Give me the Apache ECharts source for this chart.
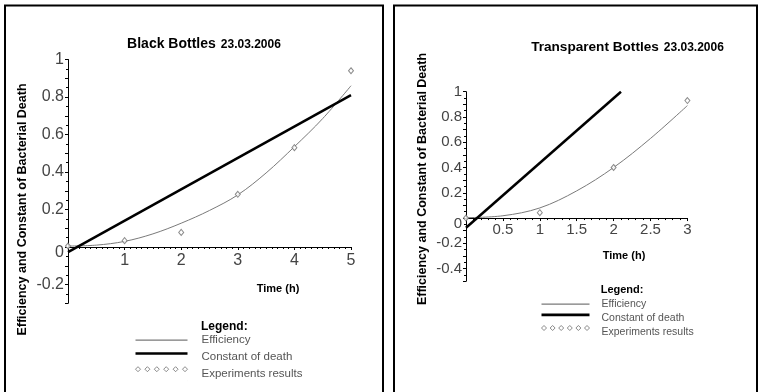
<!DOCTYPE html>
<html>
<head>
<meta charset="utf-8">
<script src="https://cdn.jsdelivr.net/npm/echarts@6/dist/echarts.min.js"></script>
<style>html,body{margin:0;padding:0;background:#fff}#c{width:760px;height:392px}</style>
</head>
<body>
<div id="c"></div>
<script>
// ---- data ----
const leftTime = [0, 0.5, 1, 1.5, 2, 2.5, 3, 3.5, 4, 4.5, 5];
const leftEfficiency = [0.005, 0.01, 0.03, 0.07, 0.127, 0.195, 0.278, 0.395, 0.535, 0.685, 0.86];
const leftDeathTime = [0, 5];
const leftDeath = [-0.027, 0.81];
const leftExpTime = [0, 1, 2, 3, 4, 5];
const leftExp = [0.005, 0.034, 0.078, 0.281, 0.53, 0.94];

const rightTime = [0, 0.5, 1, 1.5, 2, 2.5, 3];
const rightEfficiency = [0.003, 0.018, 0.08, 0.215, 0.40, 0.63, 0.89];
const rightDeathTime = [0, 2.1];
const rightDeath = [-0.077, 1.0];
const rightExpTime = [0, 1, 2, 3];
const rightExp = [0.0, 0.042, 0.40, 0.93];

const leftXTicks = ['1', '2', '3', '4', '5'];
const leftYTicks = ['-0.2', '0', '0.2', '0.4', '0.6', '0.8', '1'];
const rightXTicks = ['0.5', '1', '1.5', '2', '2.5', '3'];
const rightYTicks = ['-0.4', '-0.2', '0', '0.2', '0.4', '0.6', '0.8', '1'];

const seriesNames = ['Efficiency', 'Constant of death', 'Experiments results'];
const titleMain = ['Black Bottles', 'Transparent Bottles'];
const titleDate = '23.03.2006';
const yName = 'Efficiency and Constant of Bacterial Death';
const xName = 'Time (h)';
const legendHead = 'Legend:';

// ---- helpers ----
const zip = (a, b) => a.map((v, i) => [v, b[i]]);
const F = '"Liberation Sans", Arial, sans-serif';
const TF = '"Liberation Sans Narrow", "Liberation Sans", Arial, sans-serif';
function fmt(list) {
  return v => {
    const s = String(+(+v).toFixed(2));
    if (!list.includes(s)) return '';
    return s === '0' ? '{z|0}' : s;
  };
}
// legend icons: drawn inside a W x 14 box (corner anchors keep the box size)
function anchors(w) { return `M0,0L0.02,0M${w},14L${w - 0.02},14`; }
function barIcon(w, y0, y1) {
  return 'path://' + anchors(w) + `M0,${y0}L${w},${y0}L${w},${y1}L0,${y1}Z`;
}
function diamondsIcon(w) {
  let p = '';
  const step = (w - 5) / 5;
  for (let i = 0; i < 6; i++) {
    const cx = 2.5 + i * step;
    p += `M${cx},0L${cx + 2.5},2.5L${cx},5L${cx - 2.5},2.5Z`;
  }
  return 'path://' + anchors(w) + p;
}

function xAxisCfg(gi, max, interval, ticks, fs, margin, minorSplit, off) {
  return {
    type: 'value', gridIndex: gi, min: 0, max: max, interval: interval, position: 'bottom', offset: off,
    axisLine: { onZero: false, lineStyle: { color: '#000', width: 1 } },
    axisTick: { show: true, length: 3, lineStyle: { color: '#000' } },
    minorTick: { show: true, splitNumber: minorSplit, length: 2, lineStyle: { color: '#000' } },
    splitLine: { show: false },
    axisLabel: { formatter: fmt(ticks), color: '#444', fontSize: fs, fontFamily: TF, margin: margin }
  };
}
function yAxisCfg(gi, min, ticks, fs) {
  return {
    type: 'value', gridIndex: gi, min: min, max: 1, interval: 0.1,
    axisLine: { onZero: false, lineStyle: { color: '#000', width: 1 } },
    axisTick: { show: true, length: 3, lineStyle: { color: '#000' } },
    minorTick: { show: true, splitNumber: 2, length: 2, lineStyle: { color: '#000' } },
    splitLine: { show: false },
    axisLabel: {
      formatter: fmt(ticks), color: '#444', fontSize: fs, fontFamily: TF, margin: 4,
      rich: { z: { fontSize: fs, fontFamily: TF, color: '#444', padding: [12, 0, 0, 0] } }
    }
  };
}
function seriesFor(idx, t, eff, dt, d, et, e) {
  return [
    { name: seriesNames[0], type: 'line', xAxisIndex: idx, yAxisIndex: idx, data: zip(t, eff),
      smooth: 0.35, symbol: 'none', color: '#7a7a7a', lineStyle: { color: '#7a7a7a', width: 1 }, z: 3 },
    { name: seriesNames[1], type: 'line', xAxisIndex: idx, yAxisIndex: idx, data: zip(dt, d),
      symbol: 'none', color: '#000', lineStyle: { color: '#000', width: 2.5 }, z: 4 },
    { name: seriesNames[2], type: 'scatter', xAxisIndex: idx, yAxisIndex: idx, data: zip(et, e),
      symbol: 'diamond', symbolSize: [5, 6], color: '#fff',
      itemStyle: { color: '#fff', borderColor: '#6e6e6e', borderWidth: 1 }, z: 5 }
  ];
}
function legendCfg(left, top, iw, gap, fs, pad) {
  return {
    orient: 'vertical', left: left, top: top, itemWidth: iw, itemHeight: 14, itemGap: gap,
    padding: 0, selectedMode: false, symbolKeepAspect: true,
    data: [
      { name: seriesNames[0], icon: barIcon(iw, 6.5, 7.7), itemStyle: { color: '#7a7a7a', borderWidth: 0 } },
      { name: seriesNames[1], icon: barIcon(iw, 2.6, 5.2), itemStyle: { color: '#000', borderWidth: 0 } },
      { name: seriesNames[2], icon: diamondsIcon(iw),
        itemStyle: { color: '#fff', borderColor: '#6e6e6e', borderWidth: 1 } }
    ],
    textStyle: { color: '#555', fontSize: fs, fontFamily: F, lineHeight: 14, padding: [0, 0, 0, pad] }
  };
}
function txt(x, y, text, size, bold, rot, align) {
  return { type: 'text', x: x, y: y, rotation: rot || 0, silent: true,
    style: { text: text, fill: '#000', font: (bold ? 'bold ' : '') + size + 'px ' + F,
      textAlign: align || 'center', textVerticalAlign: 'middle' } };
}
function titleCfg(cx, top, main, sizeMain) {
  return { left: cx, top: top, textAlign: 'center', padding: 0,
    text: '{a|' + main + '} {b|' + titleDate + '}',
    textStyle: { rich: {
      a: { fontSize: sizeMain, fontWeight: 'bold', fontFamily: F, color: '#000', verticalAlign: 'bottom', lineHeight: 16 },
      b: { fontSize: 12, fontFamily: F, color: '#000', verticalAlign: 'bottom', lineHeight: 16 } } } };
}

const chart = echarts.init(document.getElementById('c'), null, { renderer: 'canvas' });
chart.setOption({
  animation: false,
  backgroundColor: '#fff',
  title: [titleCfg(204, 33, titleMain[0], 14), titleCfg(627.5, 36, titleMain[1], 13.6)],
  grid: [
    { left: 68, top: 59.5, width: 283, height: 243.75, containLabel: false },
    { left: 466, top: 91.7, width: 221.4, height: 189.5, containLabel: false }
  ],
  xAxis: [
    xAxisCfg(0, 5, 1, leftXTicks, 16, 6, 10, -56.25),
    xAxisCfg(1, 3, 0.5, rightXTicks, 15, 4, 5, -63.15)
  ],
  yAxis: [
    yAxisCfg(0, -0.3, leftYTicks, 16),
    yAxisCfg(1, -0.5, rightYTicks, 15)
  ],
  legend: [
    legendCfg(135, 333, 52, 2.6, 11.5, 9),
    legendCfg(541, 297, 48, 0, 10.5, 7)
  ],
  series: [].concat(
    seriesFor(0, leftTime, leftEfficiency, leftDeathTime, leftDeath, leftExpTime, leftExp),
    seriesFor(1, rightTime, rightEfficiency, rightDeathTime, rightDeath, rightExpTime, rightExp)
  ),
  graphic: [
    { type: 'rect', silent: true, shape: { x: 5, y: 5.5, width: 378, height: 420 },
      style: { fill: 'none', stroke: '#000', lineWidth: 2 } },
    { type: 'rect', silent: true, shape: { x: 394, y: 5.5, width: 363, height: 420 },
      style: { fill: 'none', stroke: '#000', lineWidth: 2 } },
    txt(23, 209.5, yName, 12.5, true, Math.PI / 2),
    txt(422.7, 179, yName, 12.5, true, Math.PI / 2),
    txt(278, 289, xName, 11, true),
    txt(624, 255.7, xName, 11, true),
    txt(201, 327, legendHead, 12, true, 0, 'left'),
    txt(600.7, 290, legendHead, 11, true, 0, 'left')
  ]
});
</script>
</body>
</html>
